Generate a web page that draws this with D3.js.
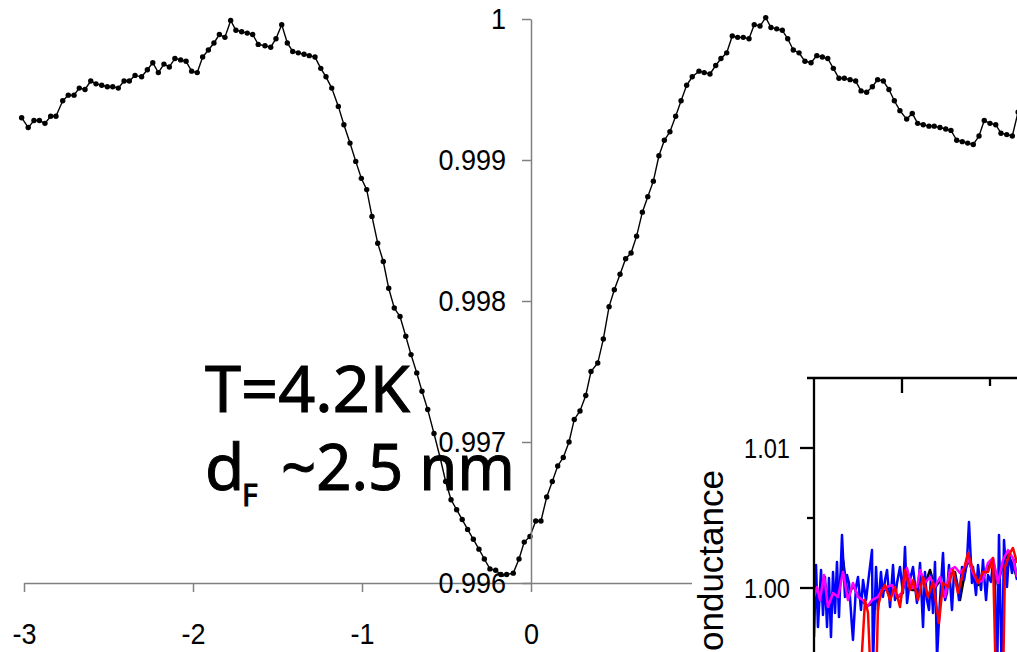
<!DOCTYPE html>
<html>
<head>
<meta charset="utf-8">
<script src="https://cdn.jsdelivr.net/npm/d3@7"></script>
<style>
  body { margin: 0; background: #fff; }
  svg { display: block; }
  .axis path, .axis line { stroke: #808080; stroke-width: 1.5; }
  .axis text { font-family: "Liberation Sans", Arial, sans-serif; font-size: 30px; fill: #000; }
  .inset path.trace { fill: none; stroke-width: 2.5; stroke-linejoin: round; }
</style>
</head>
<body>
<div id="chart"></div>
<script>
// main trace: normalised conductance vs bias (V)
var bias = [
  -3.014,-2.975,-2.941,-2.909,-2.876,-2.842,-2.811,-2.771,-2.738,-2.704,
  -2.673,-2.639,-2.605,-2.574,-2.540,-2.507,-2.475,-2.442,-2.408,-2.377,
  -2.343,-2.304,-2.270,-2.238,-2.205,-2.172,-2.140,-2.107,-2.073,-2.041,
  -2.008,-1.975,-1.943,-1.909,-1.876,-1.844,-1.811,-1.777,-1.746,-1.712,
  -1.679,-1.647,-1.614,-1.574,-1.540,-1.509,-1.475,-1.442,-1.410,-1.377,
  -1.343,-1.312,-1.278,-1.244,-1.213,-1.179,-1.140,-1.107,-1.071,-1.037,
  -1.004,-0.972,-0.941,-0.907,-0.874,-0.842,-0.809,-0.775,-0.741,-0.710,
  -0.676,-0.645,-0.611,-0.574,-0.538,-0.505,-0.473,-0.440,-0.407,-0.375,
  -0.341,-0.308,-0.276,-0.243,-0.209,-0.178,-0.144,-0.105,-0.071,-0.040,
  -0.006,0.028,0.059,0.093,0.126,0.158,0.191,0.225,0.256,0.290,
  0.324,0.355,0.395,0.428,0.462,0.493,0.527,0.560,0.592,0.625,
  0.659,0.691,0.724,0.757,0.789,0.822,0.856,0.888,0.921,0.954,
  0.994,1.025,1.059,1.093,1.124,1.158,1.191,1.223,1.256,1.290,
  1.321,1.355,1.389,1.420,1.454,1.487,1.519,1.552,1.586,1.621,
  1.657,1.691,1.724,1.756,1.789,1.822,1.854,1.888,1.921,1.953,
  1.986,2.020,2.051,2.085,2.118,2.150,2.183,2.223,2.256,2.288,
  2.321,2.355,2.386,2.420,2.454,2.485,2.519,2.552,2.584,2.617,
  2.651,2.682,2.716,2.750,2.781,2.815,2.848,2.882
];
var conductance = [
  0.99930,0.99923,0.99928,0.99928,0.99926,0.99931,0.99931,0.99942,0.99946,0.99946,
  0.99951,0.99950,0.99956,0.99954,0.99953,0.99952,0.99952,0.99951,0.99956,0.99956,
  0.99960,0.99959,0.99964,0.99969,0.99962,0.99968,0.99966,0.99972,0.99971,0.99970,
  0.99963,0.99962,0.99973,0.99978,0.99983,0.99989,0.99987,0.99999,0.99992,0.99991,
  0.99990,0.99989,0.99982,0.99981,0.99980,0.99986,0.99996,0.99983,0.99977,0.99976,
  0.99975,0.99974,0.99973,0.99965,0.99959,0.99951,0.99938,0.99925,0.99912,0.99899,
  0.99887,0.99879,0.99860,0.99841,0.99828,0.99809,0.99795,0.99789,0.99775,0.99762,
  0.99749,0.99736,0.99723,0.99706,0.99689,0.99672,0.99659,0.99652,0.99645,0.99638,
  0.99631,0.99624,0.99617,0.99610,0.99609,0.99606,0.99606,0.99607,0.99617,0.99629,
  0.99633,0.99644,0.99644,0.99661,0.99672,0.99683,0.99689,0.99700,0.99716,0.99722,
  0.99733,0.99750,0.99756,0.99773,0.99796,0.99808,0.99819,0.99830,0.99834,0.99846,
  0.99863,0.99874,0.99885,0.99903,0.99914,0.99920,0.99931,0.99942,0.99953,0.99959,
  0.99963,0.99962,0.99961,0.99967,0.99972,0.99976,0.99988,0.99987,0.99987,0.99986,
  0.99996,0.99995,1.00001,0.99994,0.99993,0.99992,0.99986,0.99978,0.99976,0.99970,
  0.99969,0.99974,0.99973,0.99972,0.99965,0.99958,0.99958,0.99957,0.99956,0.99949,
  0.99948,0.99952,0.99957,0.99956,0.99950,0.99942,0.99935,0.99929,0.99933,0.99926,
  0.99925,0.99924,0.99924,0.99923,0.99922,0.99921,0.99914,0.99913,0.99912,0.99911,
  0.99917,0.99928,0.99926,0.99925,0.99919,0.99918,0.99917,0.99934
];
var xTicks = [-3, -2, -1, 0];
var yTicks = [0.996, 0.997, 0.998, 0.999, 1];

// inset traces (bias in mV, only the left part is on screen)
var blueBias = [
  -50.00,-49.77,-49.55,-49.20,-48.98,-48.75,-48.52,-48.30,-48.07,-47.84,
  -47.61,-47.39,-47.16,-46.82,-46.48,-46.25,-46.02,-45.68,-45.57,-45.23,
  -45.00,-44.66,-44.43,-44.09,-43.86,-43.41,-43.30,-42.95,-42.73,-42.39,
  -42.16,-41.93,-41.70,-41.36,-41.02,-40.80,-40.57,-40.23,-39.89,-39.66,
  -39.43,-39.09,-38.75,-38.30,
  -37.95,-37.61,-37.39,-37.16,-36.93,-36.70,-36.48,-36.25,-36.02,-35.68,
  -35.34,-35.11,-34.89,-34.66,-34.32,-34.09,-33.75,-33.52,-33.18,-32.95,
  -32.61,-32.39,-32.05,-31.93,-31.59,-31.36,-31.02,-30.80,-30.45,-30.23,
  -29.89,-29.66,-29.43,-29.20,-28.98,-28.64,-28.41,-28.07,-27.84,-27.50,
  -27.27,-26.93
];
var blueG = [
  0.99650,1.00164,0.99721,1.00129,0.99807,1.00079,0.99721,1.00071,0.99650,1.00114,
  0.99821,1.00186,0.99793,1.00379,0.99936,1.00093,1.00036,0.99721,0.99629,1.00007,
  1.00079,0.99843,1.00057,0.99914,1.00036,1.00271,0.99450,1.00150,0.99843,1.00114,
  0.99936,1.00057,1.00129,0.99864,1.00164,0.99914,1.00036,1.00150,0.99964,1.00293,
  0.99893,1.00057,1.00150,0.99893,
  1.00179,0.99721,1.00114,0.99914,0.99843,1.00093,0.99821,1.00186,0.99500,0.99914,
  1.00250,0.99914,0.99964,1.00164,0.99843,1.00107,1.00036,0.99914,1.00150,1.00057,
  1.00200,1.00471,1.00036,1.00150,0.99950,1.00164,0.99986,1.00200,0.99914,1.00093,
  1.00043,1.00179,1.00036,0.99300,1.00379,0.99300,1.00343,1.00007,1.00257,1.00107,
  1.00200,1.00057
];
var traceBias = [
  -50.00,-49.66,-49.32,-48.86,-48.41,-47.84,-47.27,-46.70,-46.14,-45.57,
  -45.00,-44.43,-43.98,-43.41,-42.73,-42.27,-41.70,-41.14,-40.57,-40.00,
  -39.43,-38.86,-38.30,-37.95,-37.39,-36.82,-36.25,-35.68,-35.11,-34.55,
  -33.98,-33.41,-32.84,-32.50,-31.93,-31.36,-30.80,-30.23,-29.66,-29.09,
  -28.52,-27.95,-27.39,-26.93
];
var magentaG = [
  0.99936,1.00007,0.99914,1.00093,0.99864,0.99964,0.99936,1.00114,0.99914,1.00036,
  0.99936,0.99914,0.99864,0.99914,0.99936,0.99986,1.00007,1.00021,0.99936,0.99964,
  1.00143,1.00000,1.00007,1.00129,1.00036,1.00079,1.00007,1.00079,0.99936,1.00129,
  1.00150,1.00107,1.00150,1.00214,1.00107,1.00036,1.00057,1.00179,1.00214,1.00036,
  1.00200,1.00271,1.00214,1.00079
];
var blackG = [
  0.99936,0.99986,0.99929,1.00071,0.99886,0.99971,0.99950,1.00200,0.99929,1.00021,
  0.99943,0.99900,0.99871,0.99886,0.99914,0.99971,1.00000,1.00014,0.99929,0.99957,
  1.00129,0.99986,0.99986,1.00093,1.00021,1.00129,1.00000,1.00057,0.99929,1.00093,
  1.00114,0.99914,1.00114,1.00200,1.00114,1.00021,1.00071,1.00143,1.00200,1.00021,
  1.00186,1.00236,1.00164,1.00071
];
var redBias = [
  -44.77,-44.20,-43.86,-43.52,-42.95,-42.73,-42.27,-41.93,-41.36,-40.80,
  -40.23,-39.66,-39.09,-38.75,-38.18,-37.61,-37.05,-36.48,-35.80,-35.34,
  -34.77,-34.20,-33.64,-33.07,-32.50,-31.93,-31.36,-30.80,-30.23,-29.66,
  -29.32,-28.52,-28.30,-27.73,-27.39,-26.93
];
var redG = [
  0.99300,0.99914,0.99821,0.99300,0.99300,0.99864,0.99986,1.00021,0.99914,1.00007,
  0.99864,1.00129,0.99986,1.00057,0.99914,1.00079,0.99936,1.00043,0.99750,1.00036,
  1.00007,1.00129,0.99964,1.00107,1.00250,1.00129,1.00036,1.00114,1.00114,1.00214,
  0.99300,0.99300,1.00150,1.00250,1.00286,1.00179
];
var insetMajorY = [0.99, 1.00, 1.01];
var insetMinorY = [0.995, 1.005];
var insetMajorX = [-40, -20];
var insetMinorX = [-30, -10];

var W = 1017, H = 652;

var svg = d3.select("#chart").append("svg")
    .attr("width", W)
    .attr("height", H);

var x = d3.scaleLinear().domain([-3, 3]).range([24, 1038]);
var y = d3.scaleLinear().domain([0.996, 1]).range([583, 19]);

// axes cross at (0, 0.996)
var xAxis = svg.append("g")
    .attr("class", "axis")
    .attr("transform", "translate(0," + y(0.996) + ")")
    .call(d3.axisBottom(x).tickValues(xTicks).tickSize(9).tickSizeOuter(0).tickPadding(31)
        .tickFormat(function(d) { return String(d); }));

var yAxis = svg.append("g")
    .attr("class", "axis")
    .attr("transform", "translate(" + x(0) + ",0)")
    .call(d3.axisLeft(y).tickValues(yTicks).tickSize(9).tickSizeOuter(0).tickPadding(16)
        .tickFormat(d3.format("~g")));

// the original labels are a little narrow for their height
svg.selectAll(".axis text").each(function() {
    var t = d3.select(this);
    t.attr("textLength", this.getComputedTextLength() * 0.9)
     .attr("lengthAdjust", "spacingAndGlyphs");
});

var pts = bias.map(function(b, i) { return [b, conductance[i]]; });

var line = d3.line()
    .x(function(d) { return x(d[0]); })
    .y(function(d) { return y(d[1]); });

svg.append("path")
    .datum(pts)
    .attr("fill", "none")
    .attr("stroke", "#000")
    .attr("stroke-width", 1.4)
    .attr("d", line);

svg.append("g").selectAll("circle")
    .data(pts)
    .enter().append("circle")
    .attr("cx", function(d) { return x(d[0]); })
    .attr("cy", function(d) { return y(d[1]); })
    .attr("r", 2.7)
    .attr("fill", "#000");

// labels on top of the curve, like the original
yAxis.raise();

var note = svg.append("g")
    .style("font-family", "'Comic Sans MS', 'Noto Sans', sans-serif")
    .attr("fill", "#000")
    .attr("stroke", "#000")
    .attr("stroke-width", 1);

note.append("text")
    .attr("x", 205).attr("y", 412)
    .style("font-size", "64px")
    .attr("textLength", 205).attr("lengthAdjust", "spacingAndGlyphs")
    .text("T=4.2K");

note.append("text")
    .attr("x", 205).attr("y", 490)
    .style("font-size", "64px")
    .text("d");
note.append("text")
    .attr("x", 242).attr("y", 506)
    .style("font-size", "30px")
    .text("F");
note.append("text")
    .attr("x", 281).attr("y", 490)
    .style("font-size", "64px")
    .attr("textLength", 234).attr("lengthAdjust", "spacingAndGlyphs")
    .text("~2.5 nm");

// ---- inset ----
var ix = d3.scaleLinear().domain([-50, 50]).range([814, 1694]);
var iy = d3.scaleLinear().domain([1.00, 1.01]).range([588, 448]);

var inset = svg.append("g").attr("class", "inset");

inset.append("rect")
    .attr("x", 692).attr("y", 372)
    .attr("width", W - 692).attr("height", H - 372)
    .attr("fill", "#fff");

inset.append("clipPath").attr("id", "iclip")
    .append("rect")
    .attr("x", ix(-50)).attr("y", iy(1.015))
    .attr("width", W - ix(-50)).attr("height", H - iy(1.015));

var plot = inset.append("g").attr("clip-path", "url(#iclip)");

function trace(xs, ys, colour) {
    var d = xs.map(function(v, i) { return [v, ys[i]]; });
    plot.append("path")
        .datum(d)
        .attr("class", "trace")
        .attr("stroke", colour)
        .attr("d", d3.line().x(function(p) { return ix(p[0]); }).y(function(p) { return iy(p[1]); }));
}

trace(traceBias, blackG, "#000");
trace(blueBias, blueG, "#0000ff");
trace(traceBias, magentaG, "#ff00ff");
trace(redBias, redG, "#ff0000");

// frame: left axis and top edge
inset.append("line")
    .attr("x1", ix(-50)).attr("x2", ix(-50))
    .attr("y1", iy(1.015)).attr("y2", H)
    .attr("stroke", "#000").attr("stroke-width", 2.3);
inset.append("line")
    .attr("x1", ix(-50) - 7).attr("x2", W)
    .attr("y1", iy(1.015)).attr("y2", iy(1.015))
    .attr("stroke", "#000").attr("stroke-width", 2.3);

inset.selectAll("line.ymaj")
    .data(insetMajorY).enter().append("line")
    .attr("x1", ix(-50) - 14).attr("x2", ix(-50))
    .attr("y1", function(d) { return iy(d); }).attr("y2", function(d) { return iy(d); })
    .attr("stroke", "#000").attr("stroke-width", 2.3);
inset.selectAll("line.ymin")
    .data(insetMinorY).enter().append("line")
    .attr("x1", ix(-50) - 7).attr("x2", ix(-50))
    .attr("y1", function(d) { return iy(d); }).attr("y2", function(d) { return iy(d); })
    .attr("stroke", "#000").attr("stroke-width", 2.3);
inset.selectAll("line.xmaj")
    .data(insetMajorX).enter().append("line")
    .attr("x1", function(d) { return ix(d); }).attr("x2", function(d) { return ix(d); })
    .attr("y1", iy(1.015)).attr("y2", iy(1.015) + 15)
    .attr("stroke", "#000").attr("stroke-width", 2.3);
inset.selectAll("line.xmin")
    .data(insetMinorX).enter().append("line")
    .attr("x1", function(d) { return ix(d); }).attr("x2", function(d) { return ix(d); })
    .attr("y1", iy(1.015)).attr("y2", iy(1.015) + 8)
    .attr("stroke", "#000").attr("stroke-width", 2.3);

inset.selectAll("text.ylab")
    .data(insetMajorY.filter(function(d) { return iy(d) < H; })).enter().append("text")
    .attr("x", 790)
    .attr("y", function(d) { return iy(d); })
    .attr("dy", "0.35em")
    .attr("text-anchor", "end")
    .attr("textLength", 46).attr("lengthAdjust", "spacingAndGlyphs")
    .style("font-family", "'Liberation Sans', Arial, sans-serif")
    .style("font-size", "28px")
    .text(d3.format(".2f"));

inset.append("text")
    .attr("transform", "translate(723,470) rotate(-90)")
    .attr("text-anchor", "end")
    .style("font-family", "'Liberation Sans', Arial, sans-serif")
    .style("font-size", "35px")
    .text("Conductance");
</script>
</body>
</html>
